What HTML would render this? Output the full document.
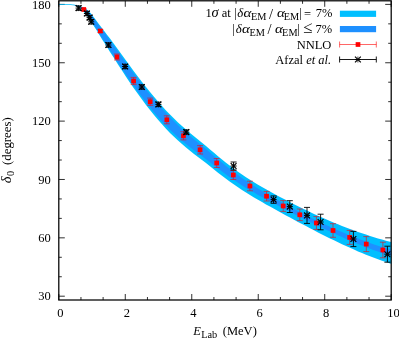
<!DOCTYPE html><html><head><meta charset="utf-8"><style>html,body{margin:0;padding:0;background:#fff}svg{display:block}text{font-family:"Liberation Serif",serif;font-size:12.5px;fill:#000}</style></head><body>
<svg width="399" height="339" viewBox="0 0 399 339">
<rect width="399" height="339" fill="#fff"/>
<path d="M58.80,300.0v-6M58.80,0.8v6M80.96,300.0v-3M80.96,0.8v3M103.12,300.0v-3M103.12,0.8v3M125.28,300.0v-6M125.28,0.8v6M147.44,300.0v-3M147.44,0.8v3M169.60,300.0v-3M169.60,0.8v3M191.76,300.0v-6M191.76,0.8v6M213.92,300.0v-3M213.92,0.8v3M236.08,300.0v-3M236.08,0.8v3M258.24,300.0v-6M258.24,0.8v6M280.40,300.0v-3M280.40,0.8v3M302.56,300.0v-3M302.56,0.8v3M324.72,300.0v-6M324.72,0.8v6M346.88,300.0v-3M346.88,0.8v3M369.04,300.0v-3M369.04,0.8v3M391.20,300.0v-6M391.20,0.8v6M58.8,296.19h6M391.2,296.19h-6M58.8,276.74h3M391.2,276.74h-3M58.8,257.29h3M391.2,257.29h-3M58.8,237.84h6M391.2,237.84h-6M58.8,218.38h3M391.2,218.38h-3M58.8,198.93h3M391.2,198.93h-3M58.8,179.48h6M391.2,179.48h-6M58.8,160.02h3M391.2,160.02h-3M58.8,140.57h3M391.2,140.57h-3M58.8,121.12h6M391.2,121.12h-6M58.8,101.67h3M391.2,101.67h-3M58.8,82.21h3M391.2,82.21h-3M58.8,62.76h6M391.2,62.76h-6M58.8,43.31h3M391.2,43.31h-3M58.8,23.85h3M391.2,23.85h-3M58.8,4.40h6M391.2,4.40h-6" stroke="#1a1a1a" stroke-width="0.9" fill="none"/>
<polygon points="58.8,4.0 60.8,4.0 62.8,4.0 64.8,4.0 66.8,4.1 68.8,4.2 70.8,4.2 72.8,4.4 74.8,4.8 76.8,5.2 78.8,5.8 80.8,6.4 82.8,7.3 84.8,8.3 86.8,9.5 88.8,11.2 90.8,13.2 92.8,15.9 94.8,18.6 96.8,21.2 98.8,24.0 100.8,26.6 102.8,29.2 104.8,31.8 106.8,34.5 108.8,37.1 110.0,38.6 114.0,43.9 118.0,49.4 122.0,55.0 126.0,60.5 130.0,66.0 134.0,71.4 138.0,76.7 142.0,81.9 146.0,87.0 150.0,91.9 154.0,96.8 158.0,101.5 162.0,106.0 166.0,110.4 170.0,114.6 174.0,118.6 178.0,122.4 182.0,126.1 186.0,129.6 190.0,133.0 194.0,136.3 198.0,139.6 202.0,142.8 206.0,146.1 210.0,149.5 214.0,152.8 218.0,156.2 222.0,159.5 226.0,162.7 230.0,165.8 234.0,168.8 238.0,171.7 242.0,174.5 246.0,177.2 250.0,179.8 254.0,182.3 258.0,184.7 262.0,187.0 266.0,189.3 270.0,191.5 274.0,193.7 278.0,195.9 282.0,198.0 286.0,200.1 290.0,202.2 294.0,204.2 298.0,206.2 302.0,208.2 306.0,210.1 310.0,212.0 314.0,213.9 318.0,215.7 322.0,217.5 326.0,219.3 330.0,221.0 334.0,222.7 338.0,224.3 342.0,225.9 346.0,227.4 350.0,229.0 354.0,230.4 358.0,231.9 362.0,233.2 366.0,234.6 370.0,235.9 374.0,237.2 378.0,238.4 382.0,239.6 386.0,240.7 390.0,241.8 391.2,242.1 391.2,263.8 390.0,263.4 386.0,262.1 382.0,260.8 378.0,259.3 374.0,257.8 370.0,256.3 366.0,254.7 362.0,253.1 358.0,251.4 354.0,249.6 350.0,247.8 346.0,246.0 342.0,244.2 338.0,242.3 334.0,240.3 330.0,238.4 326.0,236.4 322.0,234.4 318.0,232.4 314.0,230.3 310.0,228.2 306.0,226.1 302.0,224.0 298.0,221.9 294.0,219.7 290.0,217.6 286.0,215.4 282.0,213.2 278.0,211.0 274.0,208.8 270.0,206.6 266.0,204.4 262.0,202.1 258.0,199.8 254.0,197.5 250.0,195.1 246.0,192.6 242.0,190.0 238.0,187.3 234.0,184.6 230.0,181.7 226.0,178.8 222.0,175.8 218.0,172.7 214.0,169.5 210.0,166.3 206.0,163.1 202.0,160.0 198.0,157.0 194.0,153.9 190.0,150.7 186.0,147.5 182.0,144.1 178.0,140.6 174.0,136.8 170.0,132.9 166.0,128.7 162.0,124.3 158.0,119.8 154.0,115.0 150.0,110.0 146.0,104.9 142.0,99.6 138.0,94.1 134.0,88.5 130.0,82.7 126.0,76.7 122.0,70.6 118.0,64.4 114.0,57.9 110.0,51.9 108.8,50.0 106.8,46.8 104.8,43.6 102.8,40.4 100.8,37.3 98.8,33.9 96.8,30.5 94.8,27.5 92.8,24.4 90.8,21.4 88.8,18.4 86.8,15.6 84.8,12.9 82.8,10.5 80.8,8.8 78.8,7.3 76.8,6.3 74.8,5.6 72.8,5.2 70.8,5.0 68.8,4.9 66.8,4.8 64.8,4.8 62.8,4.8 60.8,4.8 58.8,4.8" fill="#00bfff"/>
<polygon points="58.8,4.4 60.8,4.4 62.8,4.4 64.8,4.4 66.8,4.4 68.8,4.5 70.8,4.6 72.8,4.8 74.8,5.1 76.8,5.5 78.8,6.2 80.8,6.9 82.8,7.7 84.8,8.7 86.8,10.1 88.8,11.9 90.8,14.1 92.8,17.0 94.8,19.8 96.8,22.5 98.8,25.2 100.8,27.8 102.8,30.4 104.8,33.1 106.8,36.0 108.8,38.8 110.0,40.4 114.0,45.9 118.0,51.5 122.0,57.2 126.0,62.8 130.0,68.3 134.0,73.7 138.0,79.1 142.0,84.3 146.0,89.4 150.0,94.4 154.0,99.3 158.0,104.0 162.0,108.6 166.0,113.0 170.0,117.3 174.0,121.3 178.0,125.2 182.0,128.8 186.0,132.4 190.0,135.8 194.0,139.2 198.0,142.5 202.0,145.8 206.0,149.1 210.0,152.5 214.0,155.9 218.0,159.3 222.0,162.6 226.0,165.9 230.0,169.1 234.0,172.1 238.0,175.1 242.0,178.0 246.0,180.7 250.0,183.4 254.0,186.0 258.0,188.5 262.0,190.9 266.0,193.3 270.0,195.6 274.0,197.9 278.0,200.2 282.0,202.4 286.0,204.6 290.0,206.8 294.0,208.9 298.0,211.0 302.0,213.1 306.0,215.2 310.0,217.2 314.0,219.2 318.0,221.2 322.0,223.1 326.0,225.0 330.0,226.8 334.0,228.6 338.0,230.4 342.0,232.1 346.0,233.8 350.0,235.4 354.0,237.0 358.0,238.6 362.0,240.1 366.0,241.6 370.0,243.0 374.0,244.4 378.0,245.7 382.0,247.0 386.0,248.2 390.0,249.4 391.2,249.8 391.2,256.0 390.0,255.6 386.0,254.3 382.0,253.0 378.0,251.6 374.0,250.2 370.0,248.7 366.0,247.2 362.0,245.6 358.0,244.0 354.0,242.3 350.0,240.6 346.0,238.9 342.0,237.1 338.0,235.3 334.0,233.5 330.0,231.6 326.0,229.8 322.0,227.8 318.0,225.9 314.0,223.9 310.0,222.0 306.0,220.0 302.0,217.9 298.0,215.9 294.0,213.9 290.0,211.8 286.0,209.7 282.0,207.7 278.0,205.6 274.0,203.5 270.0,201.4 266.0,199.3 262.0,197.1 258.0,194.9 254.0,192.6 250.0,190.3 246.0,187.9 242.0,185.4 238.0,182.8 234.0,180.1 230.0,177.4 226.0,174.5 222.0,171.6 218.0,168.6 214.0,165.5 210.0,162.3 206.0,159.3 202.0,156.3 198.0,153.2 194.0,150.2 190.0,147.2 186.0,144.0 182.0,140.7 178.0,137.2 174.0,133.6 170.0,129.7 166.0,125.6 162.0,121.4 158.0,116.9 154.0,112.2 150.0,107.3 146.0,102.3 142.0,97.1 138.0,91.7 134.0,86.2 130.0,80.5 126.0,74.7 122.0,68.8 118.0,62.7 114.0,56.4 110.0,50.3 108.8,48.4 106.8,45.2 104.8,42.1 102.8,39.0 100.8,35.9 98.8,32.7 96.8,29.4 94.8,26.3 92.8,23.2 90.8,20.1 88.8,17.3 86.8,14.7 84.8,12.2 82.8,9.9 80.8,8.1 78.8,6.8 76.8,5.9 74.8,5.3 72.8,4.8 70.8,4.6 68.8,4.5 66.8,4.4 64.8,4.4 62.8,4.4 60.8,4.4 58.8,4.4" fill="#1e90ff"/>
<rect x="339.9" y="10.7" width="36.2" height="6.2" fill="#00bfff"/>
<rect x="339.9" y="26.0" width="36.2" height="6.2" fill="#1e90ff"/>
<path d="M83.7,8.7V10.3M80.7,8.7H86.7M80.7,10.3H86.7" stroke="#ff0000" stroke-width="0.6" fill="none"/>
<rect x="81.38" y="7.15" width="4.70" height="4.70" fill="#ff0000"/>
<path d="M100.3,29.5V32.5M97.3,29.5H103.3M97.3,32.5H103.3" stroke="#ff0000" stroke-width="0.6" fill="none"/>
<rect x="98.00" y="28.65" width="4.70" height="4.70" fill="#ff0000"/>
<path d="M117.0,54.0V60.0M114.0,54.0H120.0M114.0,60.0H120.0" stroke="#ff0000" stroke-width="0.6" fill="none"/>
<rect x="114.62" y="54.65" width="4.70" height="4.70" fill="#ff0000"/>
<path d="M133.6,77.4V84.6M130.6,77.4H136.6M130.6,84.6H136.6" stroke="#ff0000" stroke-width="0.6" fill="none"/>
<rect x="131.24" y="78.65" width="4.70" height="4.70" fill="#ff0000"/>
<path d="M150.2,98.1V105.3M147.2,98.1H153.2M147.2,105.3H153.2" stroke="#ff0000" stroke-width="0.6" fill="none"/>
<rect x="147.86" y="99.35" width="4.70" height="4.70" fill="#ff0000"/>
<path d="M166.8,115.8V123.8M163.8,115.8H169.8M163.8,123.8H169.8" stroke="#ff0000" stroke-width="0.6" fill="none"/>
<rect x="164.48" y="117.45" width="4.70" height="4.70" fill="#ff0000"/>
<path d="M183.4,131.7V139.9M180.4,131.7H186.4M180.4,139.9H186.4" stroke="#ff0000" stroke-width="0.6" fill="none"/>
<rect x="181.10" y="133.45" width="4.70" height="4.70" fill="#ff0000"/>
<path d="M200.1,145.6V154.0M197.1,145.6H203.1M197.1,154.0H203.1" stroke="#ff0000" stroke-width="0.6" fill="none"/>
<rect x="197.72" y="147.45" width="4.70" height="4.70" fill="#ff0000"/>
<path d="M216.7,158.5V167.5M213.7,158.5H219.7M213.7,167.5H219.7" stroke="#ff0000" stroke-width="0.6" fill="none"/>
<rect x="214.34" y="160.65" width="4.70" height="4.70" fill="#ff0000"/>
<path d="M233.3,170.5V179.5M230.3,170.5H236.3M230.3,179.5H236.3" stroke="#ff0000" stroke-width="0.6" fill="none"/>
<rect x="230.96" y="172.65" width="4.70" height="4.70" fill="#ff0000"/>
<path d="M249.9,181.2V190.8M246.9,181.2H252.9M246.9,190.8H252.9" stroke="#ff0000" stroke-width="0.6" fill="none"/>
<rect x="247.58" y="183.65" width="4.70" height="4.70" fill="#ff0000"/>
<path d="M266.6,191.4V201.0M263.6,191.4H269.6M263.6,201.0H269.6" stroke="#ff0000" stroke-width="0.6" fill="none"/>
<rect x="264.20" y="193.85" width="4.70" height="4.70" fill="#ff0000"/>
<path d="M283.2,200.6V211.4M280.2,200.6H286.2M280.2,211.4H286.2" stroke="#ff0000" stroke-width="0.6" fill="none"/>
<rect x="280.82" y="203.65" width="4.70" height="4.70" fill="#ff0000"/>
<path d="M299.8,209.0V220.6M296.8,209.0H302.8M296.8,220.6H302.8" stroke="#ff0000" stroke-width="0.6" fill="none"/>
<rect x="297.44" y="212.45" width="4.70" height="4.70" fill="#ff0000"/>
<path d="M316.4,216.6V229.4M313.4,216.6H319.4M313.4,229.4H319.4" stroke="#ff0000" stroke-width="0.6" fill="none"/>
<rect x="314.06" y="220.65" width="4.70" height="4.70" fill="#ff0000"/>
<path d="M333.0,223.7V237.3M330.0,223.7H336.0M330.0,237.3H336.0" stroke="#ff0000" stroke-width="0.6" fill="none"/>
<rect x="330.68" y="228.15" width="4.70" height="4.70" fill="#ff0000"/>
<path d="M349.7,230.4V244.4M346.7,230.4H352.7M346.7,244.4H352.7" stroke="#ff0000" stroke-width="0.6" fill="none"/>
<rect x="347.30" y="235.05" width="4.70" height="4.70" fill="#ff0000"/>
<path d="M366.3,236.6V251.6M363.3,236.6H369.3M363.3,251.6H369.3" stroke="#ff0000" stroke-width="0.6" fill="none"/>
<rect x="363.92" y="241.75" width="4.70" height="4.70" fill="#ff0000"/>
<path d="M382.9,242.2V257.8M379.9,242.2H385.9M379.9,257.8H385.9" stroke="#ff0000" stroke-width="0.6" fill="none"/>
<rect x="380.54" y="247.65" width="4.70" height="4.70" fill="#ff0000"/>
<path d="M78.6,5.9V10.3M75.6,5.9H81.6M75.6,10.3H81.6" stroke="#000" stroke-width="0.9" fill="none"/>
<path d="M75.6,8.1H81.6" stroke="#000" stroke-width="1.0" fill="none"/><path d="M78.6,5.1V11.1" stroke="#000" stroke-width="0.7" fill="none"/><path d="M75.7,5.2L81.5,11.0M75.7,11.0L81.5,5.2" stroke="#000" stroke-width="1.2" fill="none"/>
<path d="M86.9,11.3V15.7M83.9,11.3H89.9M83.9,15.7H89.9" stroke="#000" stroke-width="0.9" fill="none"/>
<path d="M83.9,13.5H89.9" stroke="#000" stroke-width="1.0" fill="none"/><path d="M86.9,10.5V16.5" stroke="#000" stroke-width="0.7" fill="none"/><path d="M84.0,10.6L89.8,16.4M84.0,16.4L89.8,10.6" stroke="#000" stroke-width="1.2" fill="none"/>
<path d="M89.6,15.4V19.8M86.6,15.4H92.6M86.6,19.8H92.6" stroke="#000" stroke-width="0.9" fill="none"/>
<path d="M86.6,17.6H92.6" stroke="#000" stroke-width="1.0" fill="none"/><path d="M89.6,14.6V20.6" stroke="#000" stroke-width="0.7" fill="none"/><path d="M86.7,14.7L92.5,20.5M86.7,20.5L92.5,14.7" stroke="#000" stroke-width="1.2" fill="none"/>
<path d="M91.2,19.6V24.0M88.2,19.6H94.2M88.2,24.0H94.2" stroke="#000" stroke-width="0.9" fill="none"/>
<path d="M88.2,21.8H94.2" stroke="#000" stroke-width="1.0" fill="none"/><path d="M91.2,18.8V24.8" stroke="#000" stroke-width="0.7" fill="none"/><path d="M88.3,18.9L94.1,24.7M88.3,24.7L94.1,18.9" stroke="#000" stroke-width="1.2" fill="none"/>
<path d="M108.4,42.8V47.2M105.4,42.8H111.4M105.4,47.2H111.4" stroke="#000" stroke-width="0.9" fill="none"/>
<path d="M105.4,45.0H111.4" stroke="#000" stroke-width="1.0" fill="none"/><path d="M108.4,42.0V48.0" stroke="#000" stroke-width="0.7" fill="none"/><path d="M105.5,42.1L111.3,47.9M105.5,47.9L111.3,42.1" stroke="#000" stroke-width="1.2" fill="none"/>
<path d="M125.1,64.3V68.7M122.1,64.3H128.1M122.1,68.7H128.1" stroke="#000" stroke-width="0.9" fill="none"/>
<path d="M122.1,66.5H128.1" stroke="#000" stroke-width="1.0" fill="none"/><path d="M125.1,63.5V69.5" stroke="#000" stroke-width="0.7" fill="none"/><path d="M122.2,63.6L128.0,69.4M122.2,69.4L128.0,63.6" stroke="#000" stroke-width="1.2" fill="none"/>
<path d="M141.8,84.8V89.2M138.8,84.8H144.8M138.8,89.2H144.8" stroke="#000" stroke-width="0.9" fill="none"/>
<path d="M138.8,87.0H144.8" stroke="#000" stroke-width="1.0" fill="none"/><path d="M141.8,84.0V90.0" stroke="#000" stroke-width="0.7" fill="none"/><path d="M138.9,84.1L144.7,89.9M138.9,89.9L144.7,84.1" stroke="#000" stroke-width="1.2" fill="none"/>
<path d="M158.4,102.2V106.6M155.4,102.2H161.4M155.4,106.6H161.4" stroke="#000" stroke-width="0.9" fill="none"/>
<path d="M155.4,104.4H161.4" stroke="#000" stroke-width="1.0" fill="none"/><path d="M158.4,101.4V107.4" stroke="#000" stroke-width="0.7" fill="none"/><path d="M155.5,101.5L161.3,107.3M155.5,107.3L161.3,101.5" stroke="#000" stroke-width="1.2" fill="none"/>
<path d="M186.3,129.9V134.2M183.3,129.9H189.3M183.3,134.2H189.3" stroke="#000" stroke-width="0.9" fill="none"/>
<path d="M183.3,132.1H189.3" stroke="#000" stroke-width="1.0" fill="none"/><path d="M186.3,129.1V135.1" stroke="#000" stroke-width="0.7" fill="none"/><path d="M183.4,129.2L189.2,135.0M183.4,135.0L189.2,129.2" stroke="#000" stroke-width="1.2" fill="none"/>
<path d="M233.6,162.0V170.0M230.6,162.0H236.6M230.6,170.0H236.6" stroke="#000" stroke-width="0.9" fill="none"/>
<path d="M230.6,166.0H236.6" stroke="#000" stroke-width="1.0" fill="none"/><path d="M233.6,163.0V169.0" stroke="#000" stroke-width="0.7" fill="none"/><path d="M230.7,163.1L236.5,168.9M230.7,168.9L236.5,163.1" stroke="#000" stroke-width="1.2" fill="none"/>
<path d="M273.6,195.9V203.3M270.6,195.9H276.6M270.6,203.3H276.6" stroke="#000" stroke-width="0.9" fill="none"/>
<path d="M270.6,199.6H276.6" stroke="#000" stroke-width="1.0" fill="none"/><path d="M273.6,196.6V202.6" stroke="#000" stroke-width="0.7" fill="none"/><path d="M270.7,196.7L276.5,202.5M270.7,202.5L276.5,196.7" stroke="#000" stroke-width="1.2" fill="none"/>
<path d="M289.8,200.7V212.5M286.8,200.7H292.8M286.8,212.5H292.8" stroke="#000" stroke-width="0.9" fill="none"/>
<path d="M286.8,206.6H292.8" stroke="#000" stroke-width="1.0" fill="none"/><path d="M289.8,203.6V209.6" stroke="#000" stroke-width="0.7" fill="none"/><path d="M286.9,203.7L292.7,209.5M286.9,209.5L292.7,203.7" stroke="#000" stroke-width="1.2" fill="none"/>
<path d="M307.0,207.4V223.4M304.0,207.4H310.0M304.0,223.4H310.0" stroke="#000" stroke-width="0.9" fill="none"/>
<path d="M304.0,215.4H310.0" stroke="#000" stroke-width="1.0" fill="none"/><path d="M307.0,212.4V218.4" stroke="#000" stroke-width="0.7" fill="none"/><path d="M304.1,212.5L309.9,218.3M304.1,218.3L309.9,212.5" stroke="#000" stroke-width="1.2" fill="none"/>
<path d="M320.6,214.2V229.8M317.6,214.2H323.6M317.6,229.8H323.6" stroke="#000" stroke-width="0.9" fill="none"/>
<path d="M317.6,222.0H323.6" stroke="#000" stroke-width="1.0" fill="none"/><path d="M320.6,219.0V225.0" stroke="#000" stroke-width="0.7" fill="none"/><path d="M317.7,219.1L323.5,224.9M317.7,224.9L323.5,219.1" stroke="#000" stroke-width="1.2" fill="none"/>
<path d="M353.4,231.4V246.6M350.4,231.4H356.4M350.4,246.6H356.4" stroke="#000" stroke-width="0.9" fill="none"/>
<path d="M350.4,239.0H356.4" stroke="#000" stroke-width="1.0" fill="none"/><path d="M353.4,236.0V242.0" stroke="#000" stroke-width="0.7" fill="none"/><path d="M350.5,236.1L356.3,241.9M350.5,241.9L356.3,236.1" stroke="#000" stroke-width="1.2" fill="none"/>
<path d="M387.4,246.2V262.2M384.4,246.2H390.4M384.4,262.2H390.4" stroke="#000" stroke-width="0.9" fill="none"/>
<path d="M384.4,254.2H390.4" stroke="#000" stroke-width="1.0" fill="none"/><path d="M387.4,251.2V257.2" stroke="#000" stroke-width="0.7" fill="none"/><path d="M384.5,251.3L390.3,257.1M384.5,257.1L390.3,251.3" stroke="#000" stroke-width="1.2" fill="none"/>
<path d="M339.6,44.5H376.3M339.6,41.5V47.5M376.3,41.5V47.5" stroke="#ff0000" stroke-width="0.6" fill="none"/>
<rect x="355.65" y="42.15" width="4.70" height="4.70" fill="#ff0000"/>
<path d="M339.6,59.5H376.3M339.6,56.5V62.5M376.3,56.5V62.5" stroke="#000" stroke-width="0.9" fill="none"/>
<path d="M354.9,59.5H360.9" stroke="#000" stroke-width="1.0" fill="none"/><path d="M357.9,56.5V62.5" stroke="#000" stroke-width="0.7" fill="none"/><path d="M355.0,56.6L360.8,62.4M355.0,62.4L360.8,56.6" stroke="#000" stroke-width="1.2" fill="none"/>
<rect x="58.8" y="0.8" width="332.4" height="299.2" fill="none" stroke="#000" stroke-width="1.25"/>
<g style="filter:grayscale(1)">
<text x="50.8" y="300.3" text-anchor="end">30</text>
<text x="50.8" y="241.9" text-anchor="end">60</text>
<text x="50.8" y="183.6" text-anchor="end">90</text>
<text x="50.8" y="125.2" text-anchor="end">120</text>
<text x="50.8" y="66.9" text-anchor="end">150</text>
<text x="50.8" y="8.5" text-anchor="end">180</text>
<text x="60.3" y="317.3" text-anchor="middle">0</text>
<text x="126.8" y="317.3" text-anchor="middle">2</text>
<text x="193.3" y="317.3" text-anchor="middle">4</text>
<text x="259.7" y="317.3" text-anchor="middle">6</text>
<text x="326.2" y="317.3" text-anchor="middle">8</text>
<text x="393.5" y="317.3" text-anchor="middle">10</text>
<text x="193.2" y="335" font-style="italic">E</text><text x="201.2" y="338" style="font-size:10.3px">Lab</text><text x="222.8" y="335">(MeV)</text>
<g transform="translate(10.5,182) rotate(-90)"><text x="-1.2" y="0.5" font-style="italic" style="font-size:14.5px">δ</text><text x="5.9" y="3.4" style="font-size:10.3px">0</text><text x="17.1" y="0" style="font-size:12.8px">(degrees)</text></g>
<text x="205.5" y="17.4" style="font-size:12.5px">1</text>
<text x="211.6" y="17.4" style="font-size:14.5px" font-style="italic">σ</text>
<text x="221.8" y="17.4" style="font-size:12.5px">at</text>
<text x="234.25" y="17.4" style="font-size:12.5px">|</text>
<text x="237.2" y="17.4" style="font-size:12.8px" font-style="italic">δ</text>
<text transform="translate(243.5,17.4) scale(1.18,1)" style="font-size:12.8px" font-style="italic">α</text>
<text x="251.0" y="20.0" style="font-size:10.3px">EM</text>
<text x="268.9" y="18.599999999999998" style="font-size:14.5px">/</text>
<text transform="translate(277.0,17.4) scale(1.18,1)" style="font-size:12.8px" font-style="italic">α</text>
<text x="283.7" y="20.0" style="font-size:10.3px">EM</text>
<text x="299.25" y="17.4" style="font-size:12.5px">|</text>
<text x="304.0" y="18.4" style="font-size:12.5px">=</text>
<text x="315.8" y="17.4" style="font-size:12.5px">7%</text>
<text x="232.25" y="33.2" style="font-size:12.5px">|</text>
<text x="235.7" y="33.2" style="font-size:12.8px" font-style="italic">δ</text>
<text transform="translate(242.0,33.2) scale(1.18,1)" style="font-size:12.8px" font-style="italic">α</text>
<text x="249.5" y="35.800000000000004" style="font-size:10.3px">EM</text>
<text x="267.4" y="34.400000000000006" style="font-size:14.5px">/</text>
<text transform="translate(275.0,33.2) scale(1.18,1)" style="font-size:12.8px" font-style="italic">α</text>
<text x="282.1" y="35.800000000000004" style="font-size:10.3px">EM</text>
<text x="297.25" y="33.2" style="font-size:12.5px">|</text>
<text x="302.9" y="32.6" style="font-size:17px">≤</text>
<text x="315.6" y="33.2" style="font-size:12.5px">7%</text>
<text x="331.4" y="48.5" text-anchor="end">NNLO</text>
<text x="331.2" y="63.5" text-anchor="end">Afzal <tspan font-style="italic">et al.</tspan></text>
</g>
</svg></body></html>
